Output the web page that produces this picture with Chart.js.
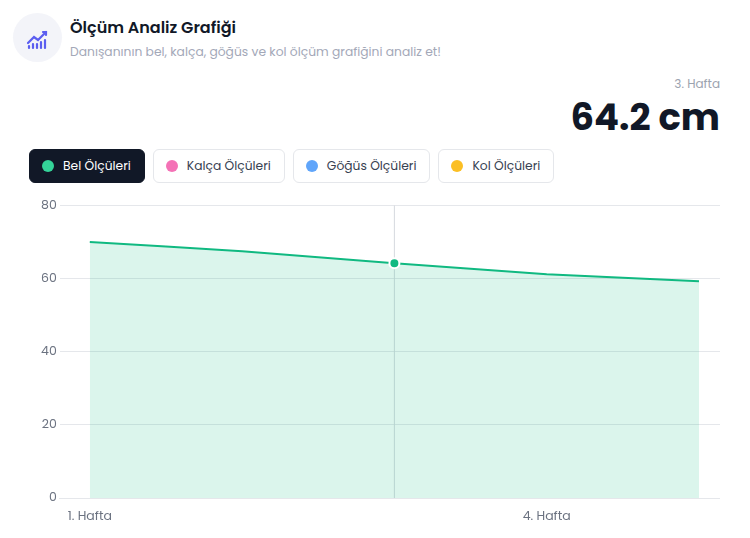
<!DOCTYPE html>
<html><head><meta charset="utf-8">
<script src="https://cdn.jsdelivr.net/npm/chart.js@4"></script>
<style>
body{margin:0;width:750px;height:538px;background:#fff;font-family:Poppins,Inter,"Noto Sans",sans-serif;position:relative;overflow:hidden}
.icon{position:absolute;left:13px;top:13px;width:49px;height:49px;border-radius:50%;background:#f3f4f9}
.title{position:absolute;left:70px;top:15px;font-size:16px;font-weight:600;color:#111827}
.sub{position:absolute;left:70px;top:43px;font-size:12.3px;color:#a3a8b8}
.wk{position:absolute;right:30px;top:75px;font-size:12px;color:#9ca3af}
.val{position:absolute;right:30px;top:89px;font-size:37px;font-weight:700;color:#111827}
.tabs{position:absolute;left:29px;top:149px;display:flex;gap:8px}
.tab{height:34px;box-sizing:border-box;border:1px solid #e5e7eb;border-radius:6px;padding:0 13px 0 12px;display:flex;align-items:center;font-size:12.3px;color:#374151;background:#fff}
.tab.on{background:#111827;color:#fff;border-color:#111827}
.dot{width:12px;height:12px;border-radius:50%;margin-right:9px}
#wrap{position:absolute;left:38px;top:195px;width:682px;height:332px}
</style></head><body>
<div class="icon"><svg width="49" height="49" viewBox="0 0 49 49"><g stroke="#5b5ef0" stroke-width="2.2" fill="none" stroke-linecap="round"><path d="M15 30 L21 24 L25 27 L33 19"/><path d="M30 19 L33 19 L33 22"/><path d="M16 35v-2M20 35v-4M24 35v-4M28 35v-6M32 35v-8"/></g></svg></div>
<div class="title">Ölçüm Analiz Grafiği</div>
<div class="sub">Danışanının bel, kalça, göğüs ve kol ölçüm grafiğini analiz et!</div>
<div class="wk">3. Hafta</div>
<div class="val">64.2 cm</div>
<div class="tabs">
<div class="tab on"><span class="dot" style="background:#34d399"></span>Bel Ölçüleri</div>
<div class="tab"><span class="dot" style="background:#f472b6"></span>Kalça Ölçüleri</div>
<div class="tab"><span class="dot" style="background:#60a5fa"></span>Göğüs Ölçüleri</div>
<div class="tab"><span class="dot" style="background:#fbbf24"></span>Kol Ölçüleri</div>
</div>
<div id="wrap"><canvas id="c"></canvas></div>
<script>
const weeks = ["1. Hafta","2. Hafta","3. Hafta","4. Hafta","5. Hafta"];
const shownTicks = ["1. Hafta","4. Hafta"];
const belValues = [70, 67.5, 64.2, 61.2, 59.3];
const activeIndex = 2;
const vline = {id:'vline',beforeDatasetsDraw(ch){const x=ch.getDatasetMeta(0).data[activeIndex].x;const a=ch.chartArea;const c=ch.ctx;c.save();c.strokeStyle='#d5d9de';c.lineWidth=1;c.beginPath();c.moveTo(x,a.top);c.lineTo(x,a.bottom);c.stroke();c.restore();}};
new Chart(document.getElementById('c'),{type:'line',
data:{datasets:[{data:belValues.map((v,i)=>({x:i,y:v})),borderColor:'#10b981',borderWidth:2,backgroundColor:'rgba(16,185,129,0.15)',fill:true,tension:0.1,
pointRadius:belValues.map((v,i)=>i===activeIndex?5:0),pointBackgroundColor:'#10b981',pointBorderColor:'#fff',pointBorderWidth:2}]},
options:{responsive:true,maintainAspectRatio:false,animation:false,
plugins:{legend:{display:false},tooltip:{enabled:false}},
scales:{x:{type:'linear',min:-0.197,max:4.138,grid:{display:false},border:{color:'#e5e7eb'},
afterBuildTicks(s){s.ticks=weeks.map((w,i)=>({value:i})).filter(t=>shownTicks.includes(weeks[t.value]));},
ticks:{autoSkip:false,maxRotation:0,color:'#6b7280',font:{size:12.5,family:'Poppins, Inter, sans-serif'},callback(v){return weeks[v];}}},
y:{min:0,max:80,ticks:{stepSize:20,color:'#6b7280',font:{size:12.5,family:'Poppins, Inter, sans-serif'},padding:3},grid:{color:'#e5e7eb',drawTicks:false},border:{display:false}}}},
plugins:[vline]});
</script></body></html>
